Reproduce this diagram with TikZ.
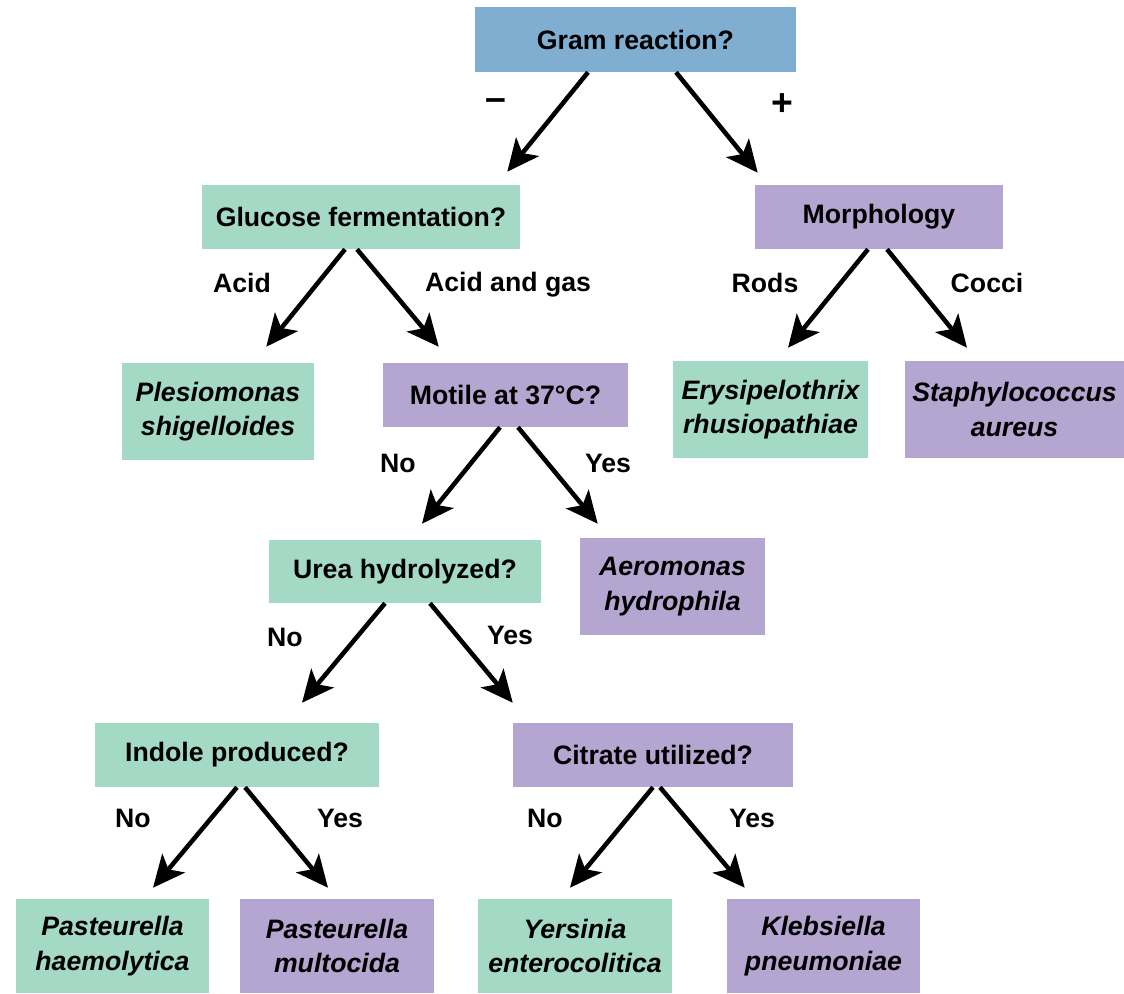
\documentclass[tikz,border=0pt]{standalone}
\usepackage{fontspec}
\setmainfont{Liberation Sans}
\usetikzlibrary{arrows.meta}

\definecolor{gramblue}{HTML}{7FAED1}
\definecolor{negfill}{HTML}{A3D9C5}
\definecolor{posfill}{HTML}{B5A6D1}

\begin{document}
\begin{tikzpicture}[
  x=0.75pt, y=-0.75pt,
  >={Stealth[length=24pt,width=22pt,inset=6pt]},
  test/.style={rectangle, inner sep=0pt, minimum height=48pt, align=center,
    font=\fontsize{20}{26}\selectfont\bfseries},
  taxon/.style={test, minimum height=72.75pt,
    font=\fontsize{20}{26}\selectfont\bfseries\itshape},
  gbox/.style={fill=negfill},
  pbox/.style={fill=posfill},
  branch/.style={->, line width=3.4pt},
  lab/.style={font=\fontsize{20}{24}\selectfont\bfseries},
  sign/.style={font=\fontsize{28}{30}\selectfont\bfseries}
]
  \useasboundingbox (0,0) rectangle (1124,993);

  % questions
  \node[test, fill=gramblue, minimum width=240.75pt, minimum height=48.75pt] (gram) at (635.5,39.5) {Gram reaction?};
  \node[test, gbox, minimum width=238.5pt] (glucose) at (361,217) {Glucose fermentation?};
  \node[test, pbox, minimum width=186pt] (morph) at (879,217) {Morphology};
  \node[test, pbox, minimum width=183.75pt] (motile) at (505.5,395) {Motile at 37°C?};
  \node[test, gbox, minimum width=204pt, minimum height=47.25pt] (urea) at (405,571.5) {Urea hydrolyzed?};
  \node[test, gbox, minimum width=213pt] (indole) at (237,755) {Indole produced?};
  \node[test, pbox, minimum width=210pt] (citrate) at (653,755) {Citrate utilized?};

  % organisms
  \node[taxon, gbox, minimum width=144pt] (plesio) at (218,411.5) {Plesiomonas\\shigelloides};
  \node[taxon, gbox, minimum width=146.25pt] (erysi) at (770.5,409.5) {Erysipelothrix\\rhusiopathiae};
  \node[taxon, pbox, minimum width=164.25pt] (staph) at (1014.5,409.5) {Staphylococcus\\aureus};
  \node[taxon, pbox, minimum width=138.75pt] (aero) at (672.5,586.5) {Aeromonas\\hydrophila};
  \node[taxon, gbox, minimum width=144.75pt, minimum height=70.5pt] (phaem) at (112.5,946) {Pasteurella\\haemolytica};
  \node[taxon, pbox, minimum width=145.5pt, minimum height=70.5pt] (pmult) at (337,946) {Pasteurella\\multocida};
  \node[taxon, gbox, minimum width=145.5pt, minimum height=70.5pt] (yers) at (575,946) {Yersinia\\enterocolitica};
  \node[taxon, pbox, minimum width=144.75pt, minimum height=70.5pt] (kleb) at (823.5,946) {Klebsiella\\pneumoniae};

  % branch labels
  \node[sign] (lneg) at (496,105) {–};
  \node[sign] (lpos) at (782,105) {+};
  \node[lab] (lacid) at (242,283) {Acid};
  \node[lab] (lgas) at (508,285) {Acid and gas};
  \node[lab] (lrods) at (765,283) {Rods};
  \node[lab] (lcocci) at (987,283) {Cocci};
  \node[lab] (lmotno) at (398,463) {No};
  \node[lab] (lmotyes) at (608,463) {Yes};
  \node[lab] (lureano) at (285,637) {No};
  \node[lab] (lureayes) at (510,635) {Yes};
  \node[lab] (lindno) at (133,818) {No};
  \node[lab] (lindyes) at (340,818) {Yes};
  \node[lab] (lcitno) at (545,818) {No};
  \node[lab] (lcityes) at (752,818) {Yes};

  % arrows
  \draw[branch] ([shift={(-47.5,0)}]gram.south) -- ([shift={(-13,-13)}]glucose.north east);
  \draw[branch] ([shift={(40.5,0)}]gram.south) -- ([shift={(3,-12)}]morph.north west);
  \draw[branch] ([shift={(-16,0)}]glucose.south) -- ([shift={(-48,-16)}]plesio.north east);
  \draw[branch] ([shift={(-4,0)}]glucose.south) -- ([shift={(56,-16)}]motile.north west);
  \draw[branch] ([shift={(-11,0)}]morph.south) -- ([shift={(17.5,-13)}]erysi.north);
  \draw[branch] ([shift={(8,0)}]morph.south) -- ([shift={(-47.5,-13)}]staph.north);
  \draw[branch] ([shift={(-5.5,0)}]motile.south) -- ([shift={(17,-16)}]urea.north);
  \draw[branch] ([shift={(12.5,0)}]motile.south) -- ([shift={(18,-14)}]aero.north west);
  \draw[branch] ([shift={(-20,0)}]urea.south) -- ([shift={(65,-20)}]indole.north);
  \draw[branch] ([shift={(25,0)}]urea.south) -- ([shift={(0,-20)}]citrate.north west);
  \draw[branch] (indole.south) -- ([shift={(40.5,-11)}]phaem.north);
  \draw[branch] ([shift={(8,0)}]indole.south) -- ([shift={(-9,-11)}]pmult.north);
  \draw[branch] (citrate.south) -- ([shift={(-5,-11)}]yers.north);
  \draw[branch] ([shift={(7,0)}]citrate.south) -- ([shift={(18,-11)}]kleb.north west);
\end{tikzpicture}
\end{document}
